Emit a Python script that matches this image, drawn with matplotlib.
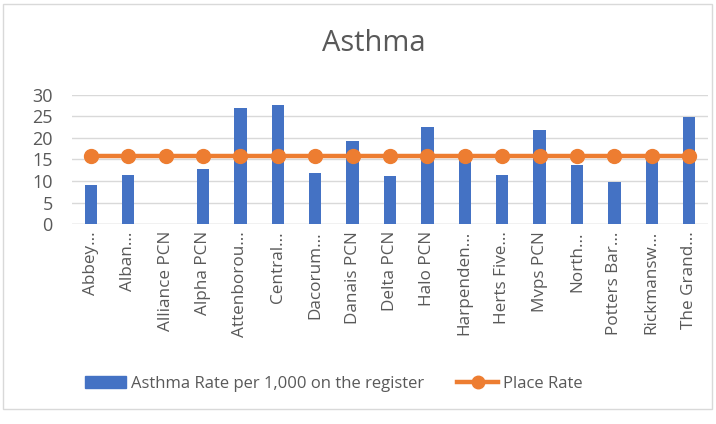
import matplotlib
matplotlib.use("Agg")
import matplotlib.pyplot as plt
from matplotlib.patches import Rectangle
from matplotlib.lines import Line2D
import numpy as np

plt.rcParams['font.family'] = ['Open Sans', 'DejaVu Sans']

categories = ["Abbey...", "Alban...", "Alliance PCN", "Alpha PCN", "Attenborou...",
              "Central...", "Dacorum...", "Danais PCN", "Delta PCN", "Halo PCN",
              "Harpenden...", "Herts Five...", "Mvps PCN", "North...", "Potters Bar...",
              "Rickmansw...", "The Grand..."]
asthma_rate = [9.1, 11.3, 0, 12.8, 26.9, 27.6, 11.8, 19.2, 11.2, 22.6,
               16.2, 11.4, 21.9, 13.8, 9.9, 16.2, 24.9]
place_rate = [15.8] * len(categories)
y_ticks = [0, 5, 10, 15, 20, 25, 30]

blue = "#4472C4"
orange = "#ED7D31"
text_col = "#595959"

fig = plt.figure(figsize=(7.16, 4.24), dpi=100)
fig.patch.set_facecolor("white")
fig.add_artist(Rectangle((0.004, 0.035), 0.99, 0.955, transform=fig.transFigure,
                         fill=False, edgecolor="#D9D9D9", linewidth=1))

ax = fig.add_axes([0.1006, 0.471, 0.888, 0.3057])
x = np.arange(len(categories))
ax.bar(x, asthma_rate, width=0.33, color=blue, zorder=2)
ax.plot(x, place_rate, color=orange, linewidth=3.2, marker="o", markersize=10,
        zorder=3)

ax.set_xlim(-0.5, len(categories) - 0.5)
ax.set_ylim(0, 30)
ax.set_yticks(y_ticks)
ax.set_yticklabels([str(t) for t in y_ticks], fontsize=13, color=text_col)
ax.yaxis.grid(True, color="#D9D9D9", linewidth=1, zorder=0)
ax.set_axisbelow(True)
ax.set_xticks(x)
ax.set_xticklabels(categories, rotation=90, fontsize=12.3, color=text_col)
ax.tick_params(axis="both", length=0)
ax.tick_params(axis="x", pad=5)
ax.tick_params(axis="y", pad=14)
for s in ax.spines.values():
    s.set_visible(False)
ax.axhline(0, color="#D9D9D9", linewidth=1, zorder=1)

fig.text(0.522, 0.898, "Asthma", ha="center", va="center", fontsize=21, color=text_col)

handles = [Rectangle((0, 0), 1, 1, color=blue),
           Line2D([0], [0], color=orange, linewidth=3.2, marker="o", markersize=9)]
leg = fig.legend(handles, ["Asthma Rate per 1,000 on the register", "Place Rate"],
                 loc="center left", bbox_to_anchor=(0.119, 0.094), ncol=2, frameon=False,
                 fontsize=12, handlelength=2.45, handletextpad=0.3, columnspacing=2.0,
                 borderpad=0, borderaxespad=0)
for t in leg.get_texts():
    t.set_color(text_col)

fig.savefig("out.png", dpi=100)
